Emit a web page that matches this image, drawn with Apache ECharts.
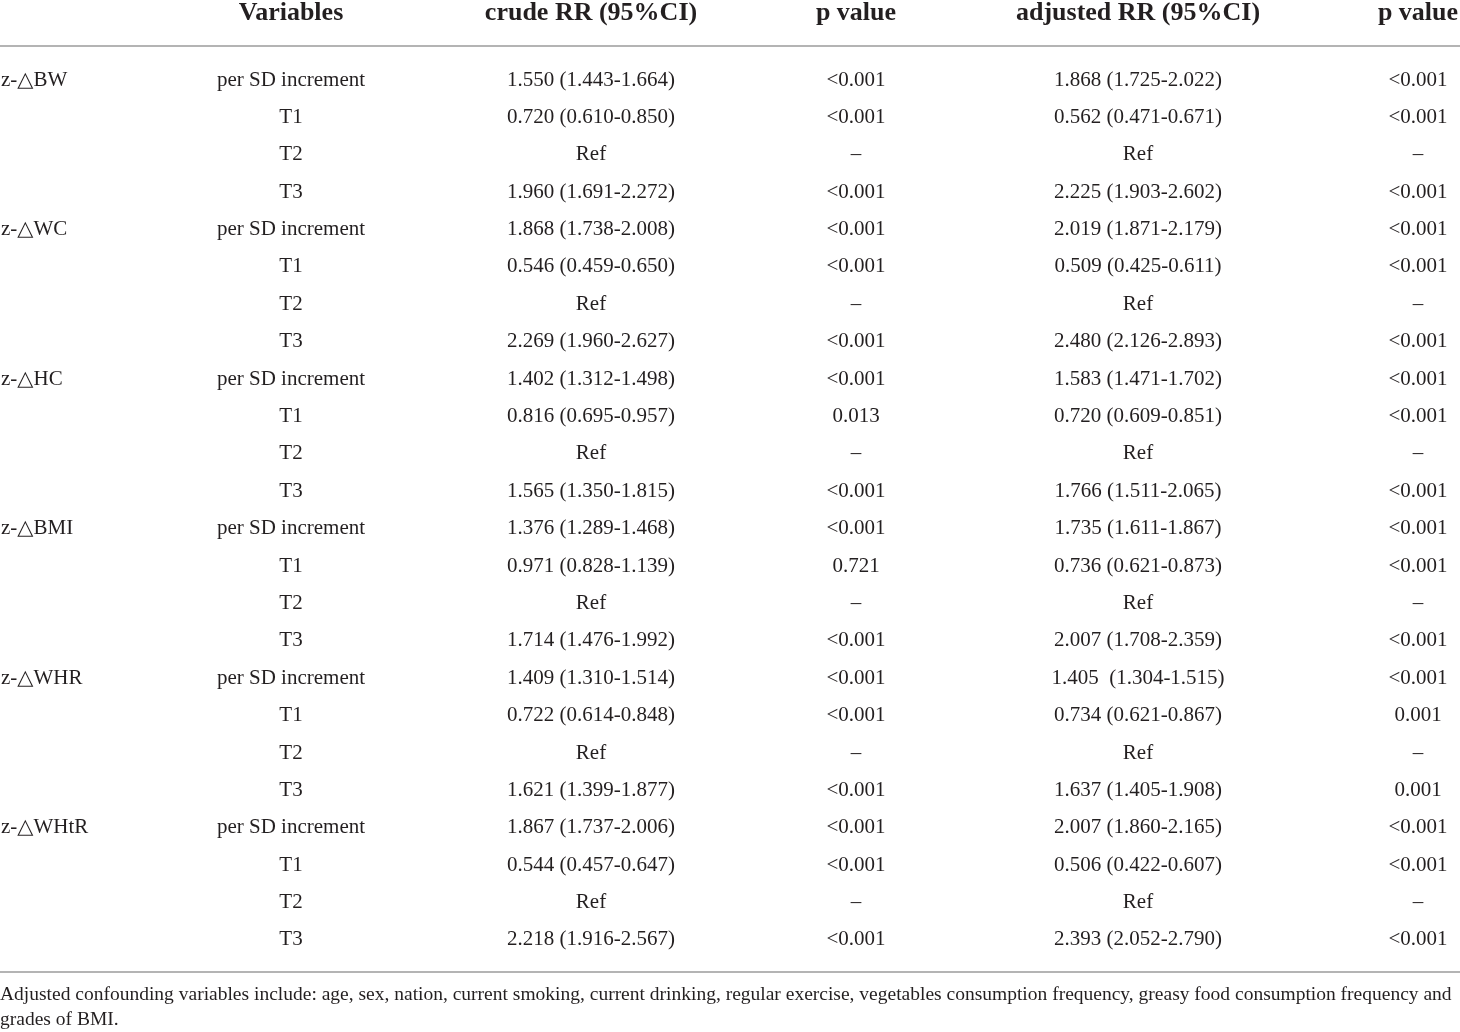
<!DOCTYPE html>
<html>
<head>
<meta charset="utf-8">
<script src="https://cdn.jsdelivr.net/npm/echarts@6/dist/echarts.min.js"></script>
<style>
  html, body { margin: 0; padding: 0; background: #fff; }
  #main { width: 1460px; height: 1032px; }
</style>
</head>
<body>
<div id="main"></div>
<script>
// table contents
var headers = ['Variables', 'crude RR (95%CI)', 'p value', 'adjusted RR (95%CI)', 'p value'];
var variables = ['z-\u25B3BW', 'z-\u25B3WC', 'z-\u25B3HC', 'z-\u25B3BMI', 'z-\u25B3WHR', 'z-\u25B3WHtR'];
var levels = ['per SD increment', 'T1', 'T2', 'T3'];
var crudeRR = [
  '1.550 (1.443-1.664)', '0.720 (0.610-0.850)', 'Ref', '1.960 (1.691-2.272)',
  '1.868 (1.738-2.008)', '0.546 (0.459-0.650)', 'Ref', '2.269 (1.960-2.627)',
  '1.402 (1.312-1.498)', '0.816 (0.695-0.957)', 'Ref', '1.565 (1.350-1.815)',
  '1.376 (1.289-1.468)', '0.971 (0.828-1.139)', 'Ref', '1.714 (1.476-1.992)',
  '1.409 (1.310-1.514)', '0.722 (0.614-0.848)', 'Ref', '1.621 (1.399-1.877)',
  '1.867 (1.737-2.006)', '0.544 (0.457-0.647)', 'Ref', '2.218 (1.916-2.567)'
];
var crudeP = [
  '<0.001', '<0.001', '\u2013', '<0.001',
  '<0.001', '<0.001', '\u2013', '<0.001',
  '<0.001', '0.013', '\u2013', '<0.001',
  '<0.001', '0.721', '\u2013', '<0.001',
  '<0.001', '<0.001', '\u2013', '<0.001',
  '<0.001', '<0.001', '\u2013', '<0.001'
];
var adjRR = [
  '1.868 (1.725-2.022)', '0.562 (0.471-0.671)', 'Ref', '2.225 (1.903-2.602)',
  '2.019 (1.871-2.179)', '0.509 (0.425-0.611)', 'Ref', '2.480 (2.126-2.893)',
  '1.583 (1.471-1.702)', '0.720 (0.609-0.851)', 'Ref', '1.766 (1.511-2.065)',
  '1.735 (1.611-1.867)', '0.736 (0.621-0.873)', 'Ref', '2.007 (1.708-2.359)',
  '1.405  (1.304-1.515)', '0.734 (0.621-0.867)', 'Ref', '1.637 (1.405-1.908)',
  '2.007 (1.860-2.165)', '0.506 (0.422-0.607)', 'Ref', '2.393 (2.052-2.790)'
];
var adjP = [
  '<0.001', '<0.001', '\u2013', '<0.001',
  '<0.001', '<0.001', '\u2013', '<0.001',
  '<0.001', '<0.001', '\u2013', '<0.001',
  '<0.001', '<0.001', '\u2013', '<0.001',
  '<0.001', '0.001', '\u2013', '0.001',
  '<0.001', '<0.001', '\u2013', '<0.001'
];
var footnote = [
  'Adjusted confounding variables include: age, sex, nation, current smoking, current drinking, regular exercise, vegetables consumption frequency, greasy food consumption frequency and',
  'grades of BMI.'
];

// layout (column anchors on the hidden x scale)
var colX = [1, 291, 591, 856, 1138, 1418];
var ROW_H = 37.39;
var TOP = 80 - ROW_H / 2;
var FONT = '"Liberation Serif", "DejaVu Serif", serif';
var INK = '#231f20';

var rowNames = [];
var cells = [];
var nRows = variables.length * levels.length;
for (var i = 0; i < nRows; i++) {
  rowNames.push('r' + i);
  if (i % levels.length === 0) cells.push([0, i, variables[i / levels.length]]);
  cells.push([1, i, levels[i % levels.length]]);
  cells.push([2, i, crudeRR[i]]);
  cells.push([3, i, crudeP[i]]);
  cells.push([4, i, adjRR[i]]);
  cells.push([5, i, adjP[i]]);
}
var headCells = headers.map(function (h, k) { return [k + 1, 0, h]; });

var chart = echarts.init(document.getElementById('main'));

function cellText(params, api, isHead) {
  var col = api.value(0);
  var pt = api.coord([colX[col], api.value(1)]);
  return {
    type: 'text',
    x: pt[0],
    y: isHead ? pt[1] - 67 : pt[1],
    style: {
      text: isHead ? headCells[params.dataIndex][2] : cells[params.dataIndex][2],
      textAlign: col === 0 ? 'left' : 'center',
      textVerticalAlign: 'middle',
      font: (isHead ? 'bold 26px ' : '21px ') + FONT,
      fill: INK
    }
  };
}

chart.setOption({
  backgroundColor: '#fff',
  animation: false,
  grid: { left: 0, right: 0, top: TOP, height: ROW_H * nRows },
  xAxis: { type: 'value', min: 0, max: 1460, show: false },
  yAxis: { type: 'category', data: rowNames, inverse: true, show: false },
  series: [
    {
      type: 'custom',
      data: cells,
      renderItem: function (params, api) { return cellText(params, api, false); }
    },
    {
      type: 'custom',
      data: headCells,
      renderItem: function (params, api) { return cellText(params, api, true); }
    }
  ],
  graphic: [
    { type: 'rect', shape: { x: 0, y: 45, width: 1460, height: 2 }, style: { fill: '#b4b4b4' } },
    { type: 'rect', shape: { x: 0, y: 971, width: 1460, height: 2 }, style: { fill: '#b4b4b4' } },
    { type: 'text', x: 0, y: 995, style: { text: footnote[0], font: '19.5px ' + FONT, fill: INK, textVerticalAlign: 'middle' } },
    { type: 'text', x: 0, y: 1020, style: { text: footnote[1], font: '19.5px ' + FONT, fill: INK, textVerticalAlign: 'middle' } }
  ]
});
</script>
</body>
</html>
